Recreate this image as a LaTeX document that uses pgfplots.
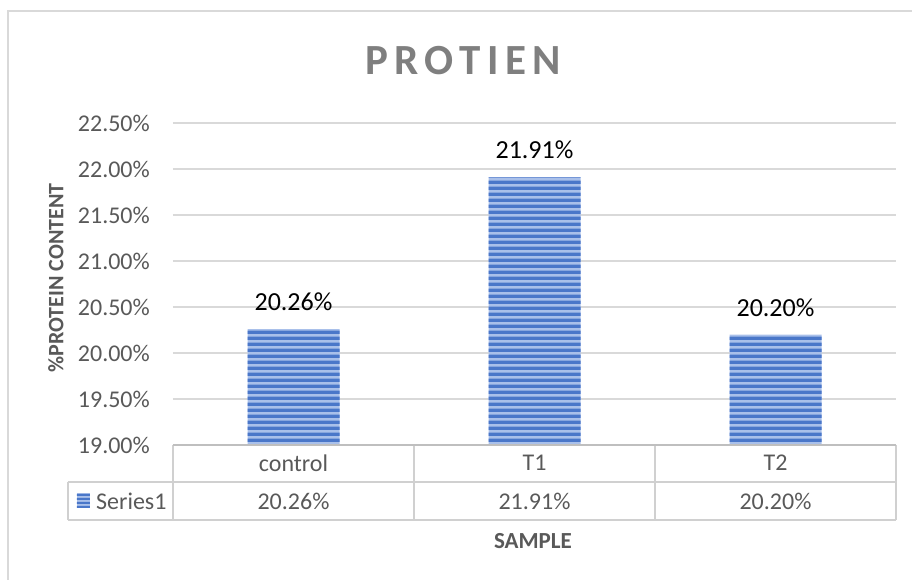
\documentclass[border=0pt]{standalone}
\usepackage{fontspec}
\setmainfont{Carlito}
\usepackage{pgfplots}
\pgfplotsset{compat=1.18}
\usetikzlibrary{patterns}
\pgfdeclarepatternformonly{hstripes}{\pgfpoint{0pt}{0pt}}{\pgfpoint{1000pt}{5.5pt}}{\pgfpoint{1000pt}{5.5pt}}{%
  \pgfpathrectangle{\pgfpoint{0pt}{0pt}}{\pgfpoint{1000pt}{3.6pt}}\pgfusepath{fill}}
\pgfdeclarepatternformonly{hstripessmall}{\pgfpoint{0pt}{0pt}}{\pgfpoint{1000pt}{4pt}}{\pgfpoint{1000pt}{4pt}}{%
  \pgfpathrectangle{\pgfpoint{0pt}{0pt}}{\pgfpoint{1000pt}{2.6pt}}\pgfusepath{fill}}
\definecolor{barblue}{HTML}{4A77C9}
\definecolor{barlight}{HTML}{A9C0EA}
\definecolor{txtgray}{HTML}{595959}
\definecolor{gridgray}{HTML}{D9D9D9}
\definecolor{tablegray}{HTML}{D0D0D0}
\definecolor{basegray}{HTML}{BFBFBF}
\definecolor{titlegray}{HTML}{7F7F7F}
\newfontfamily\titlefont[LetterSpace=15]{Carlito}
\begin{document}
\begin{tikzpicture}
\path[use as bounding box] (-173pt,-134pt) rectangle (739pt,445pt);
% chart frame
\draw[gridgray, line width=1.5pt] (-165pt,-140pt) -- (-165pt,434pt) -- (750pt,434pt);
\begin{axis}[
  at={(0pt,0pt)}, anchor=south west,
  scale only axis, width=723pt, height=322pt,
  xmin=-0.5, xmax=2.5, ymin=19, ymax=22.5,
  axis line style={draw=none},
  xtick=\empty,
  ytick={19,19.5,20,20.5,21,21.5,22,22.5},
  yticklabels={19.00\%,19.50\%,20.00\%,20.50\%,21.00\%,21.50\%,22.00\%,22.50\%},
  major tick length=0pt,
  ymajorgrids, grid style={gridgray, line width=1.2pt},
  yticklabel style={font=\fontsize{24}{28}\selectfont, text=txtgray, anchor=east, inner sep=0pt, xshift=-23pt},
  /pgf/number format/assume math mode=true,
  ybar, bar width=92pt,
  nodes near coords={\pgfmathprintnumber[fixed,fixed zerofill,precision=2]{\pgfplotspointmeta}\%},
  every node near coord/.append style={anchor=south, inner sep=0pt, yshift=18pt, font=\fontsize{26}{30}\selectfont, text=black},
]
\addplot[ybar, fill=barlight, draw=none,
  postaction={pattern=hstripes, pattern color=barblue}]
  coordinates {(0,20.26) (1,21.91) (2,20.20)};
\end{axis}
% data table
\draw[tablegray, line width=1.5pt] (-105pt,-37pt) -- (723pt,-37pt);
\draw[tablegray, line width=1.5pt] (-105pt,-75pt) -- (723pt,-75pt);
\draw[tablegray, line width=1.5pt] (-105pt,-37pt) -- (-105pt,-75pt);
\foreach \xx in {0,241,482,723} {\draw[tablegray, line width=1.5pt] (\xx pt,0pt) -- (\xx pt,-75pt);}
\draw[basegray, line width=2pt] (0pt,0pt) -- (723pt,0pt);
\begin{scope}[every node/.style={font=\fontsize{24}{28}\selectfont, text=txtgray, inner sep=0pt}]
\node at (120.5pt,-18pt) {control};
\node at (361.5pt,-18pt) {T1};
\node at (602.5pt,-18pt) {T2};
\node at (120.5pt,-56pt) {20.26\%};
\node at (361.5pt,-56pt) {21.91\%};
\node at (602.5pt,-56pt) {20.20\%};
\node[anchor=west] at (-77pt,-56pt) {Series1};
\end{scope}
\fill[barlight] (-96pt,-48pt) rectangle (-83pt,-63pt);
\path[pattern=hstripessmall, pattern color=barblue] (-96pt,-48pt) rectangle (-83pt,-63pt);
% titles
\node[text=titlegray, inner sep=0pt] at (290pt,384pt) {\titlefont\bfseries\fontsize{43}{48}\selectfont PROTIEN};
\node[text=txtgray, inner sep=0pt, rotate=90, font=\bfseries\fontsize{22}{26}\selectfont] at (-117pt,167pt) {\%PROTEIN CONTENT};
\node[text=txtgray, inner sep=0pt, font=\bfseries\fontsize{23}{27}\selectfont] at (360pt,-96pt) {SAMPLE};
\end{tikzpicture}
\end{document}
